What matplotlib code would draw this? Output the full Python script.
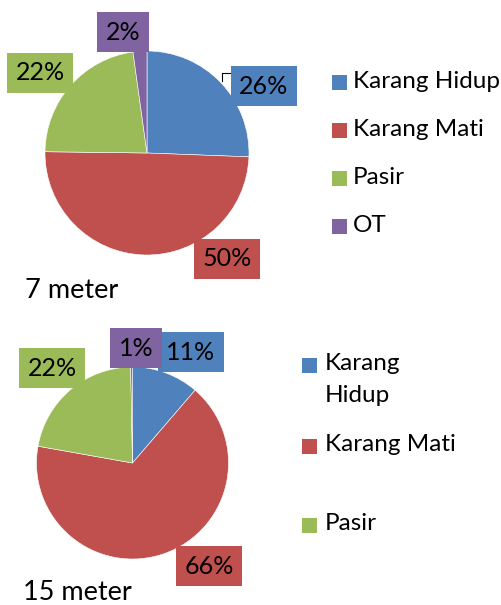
import matplotlib
matplotlib.use("Agg")
import matplotlib.pyplot as plt
from matplotlib.patches import Rectangle

plt.rcParams['font.family'] = ['Lato', 'DejaVu Sans']

categories = ["Karang Hidup", "Karang Mati", "Pasir", "OT"]
colors = ["#4F81BD", "#C0504D", "#9BBB59", "#8064A2"]

values_7m = [25.6, 49.6, 22.6, 2.2]
labels_7m = ["26%", "50%", "22%", "2%"]
values_15m = [11.3, 66.5, 21.9, 0.3]
labels_15m = ["11%", "66%", "22%", "1%"]

W, H = 501, 605
fig = plt.figure(figsize=(W / 100, H / 100), dpi=100)
ax = fig.add_axes([0, 0, 1, 1])

def Y(y):
    return H - y

def draw_pie(values, labels, center, radius, label_pos):
    ax.pie(values, colors=colors, startangle=90, counterclock=False,
           center=(center[0], Y(center[1])), radius=radius, frame=True,
           wedgeprops=dict(edgecolor='white', linewidth=0.4))
    for lab, (px, py), col in zip(labels, label_pos, colors):
        ax.text(px, Y(py), lab, ha='center', va='center', fontsize=18, color='black',
                bbox=dict(boxstyle='square,pad=0.35', fc=col, ec='none'))

draw_pie(values_7m, labels_7m, (147, 153), 102,
         [(264, 86), (227, 259), (40, 73), (123, 32)])
# leader line for the first label
ax.plot([222, 222, 233], [Y(81), Y(73), Y(73)], color='black', lw=0.8)

draw_pie(values_15m, labels_15m, (132.5, 463), 96,
         [(191, 352), (209, 566), (52, 368), (136, 348)])

ax.text(25, Y(291), "7 meter", fontsize=19.5, ha='left', va='center')
ax.text(23, Y(593), "15 meter", fontsize=19.5, ha='left', va='center')

# legend 1
sq = 15
for cat, col, y in zip(categories, colors, [82, 130, 178, 226]):
    ax.add_patch(Rectangle((332, Y(y) - sq / 2), sq, sq, fc=col, ec='none'))
    ax.text(353, Y(y), cat, fontsize=17.5, ha='left', va='center')

# legend 2 (wrapped, OT cut off)
leg2 = [("Karang\nHidup", 365), ("Karang Mati", 446), ("Pasir", 525)]
for (txt, y), col in zip(leg2, colors):
    ax.add_patch(Rectangle((302, Y(y) - sq / 2), sq, sq, fc=col, ec='none'))
    ax.text(325, Y(y) + 12, txt, fontsize=17.5, ha='left', va='top', linespacing=1.65)

ax.set_xlim(0, W)
ax.set_ylim(0, H)
ax.set_aspect('equal')
ax.axis('off')

fig.savefig("out.png", dpi=100)
